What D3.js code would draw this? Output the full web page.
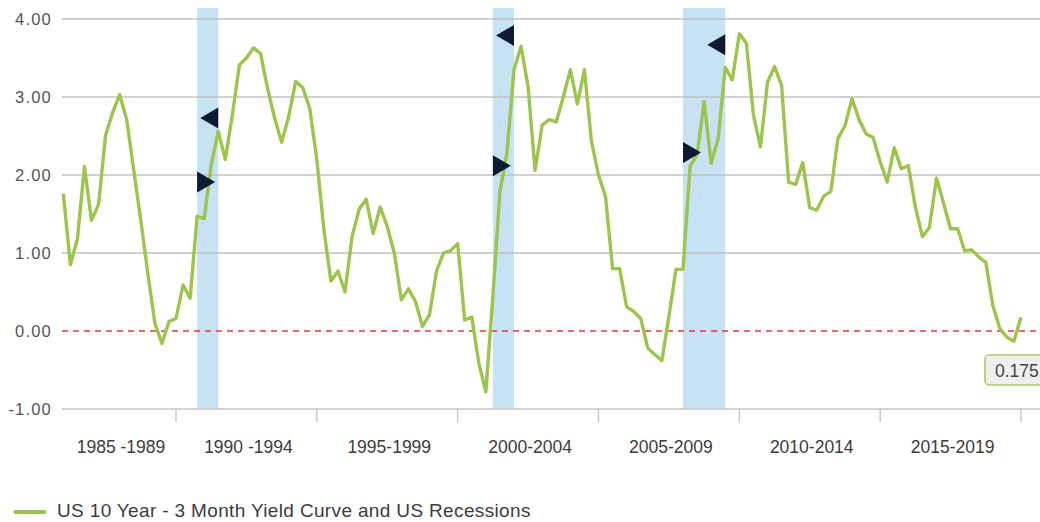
<!DOCTYPE html>
<html>
<head>
<meta charset="utf-8">
<script src="https://cdn.jsdelivr.net/npm/d3@7"></script>
<style>
  body { margin: 0; background: #fff; }
  svg { display: block; font-family: "Liberation Sans", Arial, sans-serif; }
</style>
</head>
<body>
<svg id="chart" width="1040" height="522"></svg>
<script>
// quarterly spread, 1986 Q1 .. 2020 Q1
const firstYear = 1986;
const spread = [
  1.76, 0.85, 1.18, 2.11, 1.42, 1.62, 2.51, 2.80, 3.03, 2.71,
  2.06, 1.42, 0.74, 0.10, -0.16, 0.12, 0.16, 0.59, 0.42, 1.47,
  1.44, 2.13, 2.56, 2.20, 2.77, 3.41, 3.50, 3.63, 3.56, 3.11,
  2.73, 2.42, 2.75, 3.20, 3.12, 2.85, 2.20, 1.30, 0.64, 0.77,
  0.50, 1.21, 1.56, 1.69, 1.25, 1.59, 1.34, 1.00, 0.40, 0.54,
  0.38, 0.06, 0.21, 0.77, 1.00, 1.03, 1.12, 0.14, 0.18, -0.41,
  -0.78, 0.45, 1.79, 2.28, 3.35, 3.65, 3.13, 2.06, 2.64, 2.71,
  2.68, 3.00, 3.35, 2.91, 3.35, 2.43, 2.00, 1.72, 0.80, 0.80,
  0.31, 0.25, 0.16, -0.22, -0.30, -0.38, 0.19, 0.79, 0.79, 2.11,
  2.26, 2.94, 2.15, 2.47, 3.38, 3.22, 3.81, 3.69, 2.77, 2.36,
  3.19, 3.39, 3.15, 1.91, 1.88, 2.16, 1.58, 1.55, 1.73, 1.79,
  2.47, 2.63, 2.98, 2.71, 2.53, 2.48, 2.17, 1.91, 2.35, 2.08,
  2.12, 1.59, 1.21, 1.33, 1.96, 1.64, 1.31, 1.31, 1.03, 1.04,
  0.95, 0.88, 0.33, 0.03, -0.08, -0.13, 0.175
];

// x axis: five-year blocks
const periodStarts = [1985, 1990, 1995, 2000, 2005, 2010, 2015];
const periodLabels = ["1985 -1989", "1990 -1994", "1995-1999", "2000-2004", "2005-2009", "2010-2014", "2015-2019"];
const yTicks = [4, 3, 2, 1, 0, -1];

// recessions (shaded) and the entry / exit markers
const recStart = [1990.75, 2001.25, 2008.0];
const recEnd   = [1991.5, 2002.0, 2009.5];
const entryVal = [1.91, 2.12, 2.29];
const exitVal  = [2.73, 3.79, 3.67];

const lastLabel = "0.175";
const legendText = "US 10 Year - 3 Month Yield Curve and US Recessions";

const width = 1040, height = 522;
const left = 62, right = 1040;
const svg = d3.select("#chart");

const x = d3.scaleLinear().domain([1990, 2020]).range([176, 1021]);
const y = d3.scaleLinear().domain([-1, 4]).range([409, 19]);

const points = spread.map((v, i) => ({ t: firstYear + i / 4, v: v }));

// recession bands
svg.append("g").selectAll("rect")
  .data(recStart)
  .join("rect")
    .attr("x", (d, i) => x(d))
    .attr("width", (d, i) => x(recEnd[i]) - x(d))
    .attr("y", 8)
    .attr("height", y(-1) - 8)
    .attr("fill", "#c6e2f3");

// gridlines
svg.append("g").selectAll("line")
  .data(yTicks.filter(d => d !== 0))
  .join("line")
    .attr("x1", left).attr("x2", right)
    .attr("y1", d => y(d)).attr("y2", d => y(d))
    .attr("stroke", d => d === -1 ? "#c4c4c4" : "#bdbdbd")
    .attr("stroke-opacity", d => d === -1 ? 1 : 0.9)
    .attr("stroke-width", 1.4);

// zero line
svg.append("line")
  .attr("x1", left).attr("x2", right)
  .attr("y1", y(0)).attr("y2", y(0))
  .attr("stroke", "#e2393a")
  .attr("stroke-width", 1.3)
  .attr("stroke-dasharray", "6,5");

// x ticks
svg.append("g").selectAll("line")
  .data(periodStarts.slice(1).concat([2020]))
  .join("line")
    .attr("x1", d => x(d)).attr("x2", d => x(d))
    .attr("y1", y(-1)).attr("y2", y(-1) + 13)
    .attr("stroke", "#c4c4c4")
    .attr("stroke-width", 1.4);

// y labels
svg.append("g").selectAll("text")
  .data(yTicks)
  .join("text")
    .attr("x", 52)
    .attr("y", d => y(d) + 6)
    .attr("text-anchor", "end")
    .attr("font-size", 16.5)
    .attr("letter-spacing", 1.2)
    .attr("fill", "#555")
    .text(d => d.toFixed(2));

// x labels, centred on the visible part of each block
svg.append("g").selectAll("text")
  .data(periodStarts)
  .join("text")
    .attr("x", d => (Math.max(x(d), left) + Math.min(x(d + 5), 1021)) / 2 + 2)
    .attr("y", 453)
    .attr("text-anchor", "middle")
    .attr("font-size", 17.5)
    .attr("fill", "#3c3c3c")
    .text((d, i) => periodLabels[i]);

// the line
const line = d3.line().x(d => x(d.t)).y(d => y(d.v));
svg.append("path")
  .datum(points)
  .attr("d", line)
  .attr("fill", "none")
  .attr("stroke", "#9dc44d")
  .attr("stroke-width", 3.4)
  .attr("stroke-linejoin", "round");

// recession markers
const mw = 18, mh = 21;
svg.append("g").selectAll("path")
  .data(recStart)
  .join("path")
    .attr("d", (d, i) => {
      const x0 = x(d), y0 = y(entryVal[i]);
      return `M${x0},${y0 - mh / 2}L${x0 + mw},${y0}L${x0},${y0 + mh / 2}Z`;
    })
    .attr("fill", "#0c1a32");
svg.append("g").selectAll("path")
  .data(recEnd)
  .join("path")
    .attr("d", (d, i) => {
      const x1 = x(d), y1 = y(exitVal[i]);
      return `M${x1},${y1 - mh / 2}L${x1 - mw},${y1}L${x1},${y1 + mh / 2}Z`;
    })
    .attr("fill", "#0c1a32");

// last value label
const last = points[points.length - 1];
svg.append("rect")
  .attr("x", x(last.t) - 36).attr("y", 355)
  .attr("width", 70).attr("height", 30)
  .attr("rx", 4)
  .attr("fill", "#efefef")
  .attr("stroke", "#a9c96a")
  .attr("stroke-width", 1.5);
svg.append("text")
  .attr("x", x(last.t) - 26).attr("y", 377)
  .attr("font-size", 17.5)
  .attr("fill", "#444")
  .text(lastLabel);

// legend
svg.append("line")
  .attr("x1", 14).attr("x2", 46)
  .attr("y1", 512).attr("y2", 512)
  .attr("stroke", "#9dc44d")
  .attr("stroke-width", 4);
svg.append("text")
  .attr("x", 57).attr("y", 517)
  .attr("font-size", 19)
  .attr("letter-spacing", 0.35)
  .attr("fill", "#3c3c3c")
  .text(legendText);
</script>
</body>
</html>
